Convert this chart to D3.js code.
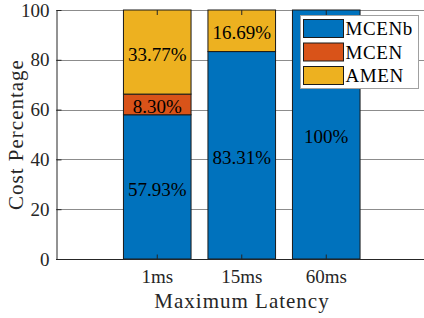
<!DOCTYPE html>
<html>
<head>
<meta charset="utf-8">
<script src="https://cdn.jsdelivr.net/npm/d3@7"></script>
<style>
  body { margin: 0; background: #fff; }
  svg { display: block; font-family: "Liberation Serif", "DejaVu Serif", serif; }
</style>
</head>
<body>
<svg id="chart" width="424" height="318"></svg>
<script>
// categories and stacked series (percent of cost)
var latencies = ['1ms', '15ms', '60ms'];
var seriesNames = ['MCENb', 'MCEN', 'AMEN'];
var mcenb = [57.93, 83.31, 100];
var mcen = [8.30, 0, 0];
var amen = [33.77, 16.69, 0];
var yTicks = [0, 20, 40, 60, 80, 100];

var colors = ['#0072BD', '#D95319', '#EDB120'];

var svg = d3.select('#chart');
var width = +svg.attr('width');
var height = +svg.attr('height');

// plot area
var plotLeft = 56, plotTop = 10, plotBottom = 259;

var x = d3.scaleBand()
  .domain(latencies)
  .range([115, 368.5])
  .paddingInner(0.2)
  .paddingOuter(0.1);

var y = d3.scaleLinear()
  .domain([0, 100])
  .range([plotBottom, plotTop]);

// build stacked rows
var rows = latencies.map(function (d, i) {
  return { lat: d, MCENb: mcenb[i], MCEN: mcen[i], AMEN: amen[i] };
});
var stacked = d3.stack().keys(seriesNames)(rows);

// grid lines
svg.append('g')
  .selectAll('line')
  .data(yTicks)
  .enter().append('line')
  .attr('x1', plotLeft).attr('x2', width)
  .attr('y1', function (d) { return Math.round(y(d)) + 0.5; })
  .attr('y2', function (d) { return Math.round(y(d)) + 0.5; })
  .attr('stroke', '#8c8c8c')
  .attr('stroke-width', 1);

// bars
var layer = svg.append('g')
  .selectAll('g')
  .data(stacked)
  .enter().append('g')
  .attr('fill', function (d, i) { return colors[i]; });

layer.selectAll('rect')
  .data(function (d) { return d.filter(function (p) { return p[1] - p[0] > 0; }); })
  .enter().append('rect')
  .attr('x', function (d) { return x(d.data.lat); })
  .attr('width', x.bandwidth())
  .attr('y', function (d) { return y(d[1]); })
  .attr('height', function (d) { return y(d[0]) - y(d[1]); })
  .attr('stroke', '#1a1a1a')
  .attr('stroke-width', 1);

// percentage labels
stacked.forEach(function (s) {
  s.forEach(function (p) {
    var v = p[1] - p[0];
    if (v <= 0) return;
    svg.append('text')
      .attr('x', x(p.data.lat) + x.bandwidth() / 2)
      .attr('y', y((p[0] + p[1]) / 2) + 2)
      .attr('dy', '0.35em')
      .attr('text-anchor', 'middle')
      .attr('font-size', 19)
      .attr('fill', '#000')
      .text((v === 100 ? '100' : v.toFixed(2)) + '%');
  });
});

// axes
var yAxis = d3.axisLeft(y).tickValues(yTicks).tickSizeInner(-5).tickSizeOuter(0).tickPadding(7);
var gy = svg.append('g')
  .attr('transform', 'translate(' + (plotLeft + 0.5) + ',0)')
  .call(yAxis);
gy.select('.domain').attr('stroke', '#262626');
gy.selectAll('.tick line').attr('stroke', '#262626');
gy.selectAll('.tick text').attr('font-size', 19).attr('fill', '#262626')
  .attr('font-family', '"Liberation Serif", serif');

var xAxis = d3.axisBottom(x).tickSizeInner(-5).tickSizeOuter(0).tickPadding(10);
var gx = svg.append('g')
  .attr('transform', 'translate(0,' + (plotBottom + 0.5) + ')')
  .call(xAxis);
gx.select('.domain').attr('d', 'M' + plotLeft + ',0H' + width).attr('stroke', '#262626');
gx.selectAll('.tick line').attr('stroke', '#262626');
gx.selectAll('.tick text').attr('font-size', 19).attr('fill', '#262626')
  .attr('font-family', '"Liberation Serif", serif');

// top ticks
svg.append('g')
  .selectAll('line')
  .data(latencies)
  .enter().append('line')
  .attr('x1', function (d) { return x(d) + x.bandwidth() / 2; })
  .attr('x2', function (d) { return x(d) + x.bandwidth() / 2; })
  .attr('y1', plotTop).attr('y2', plotTop + 5)
  .attr('stroke', '#262626');

// axis titles
svg.append('text')
  .attr('x', 242).attr('y', 308)
  .attr('text-anchor', 'middle')
  .attr('font-size', 21)
  .attr('letter-spacing', 1)
  .attr('fill', '#262626')
  .text('Maximum Latency');

svg.append('text')
  .attr('transform', 'translate(23,' + ((plotTop + plotBottom) / 2) + ') rotate(-90)')
  .attr('text-anchor', 'middle')
  .attr('font-size', 21)
  .attr('letter-spacing', 1)
  .attr('fill', '#262626')
  .text('Cost Percentage');

// legend
var legend = svg.append('g').attr('transform', 'translate(300.5,15.5)');
legend.append('rect')
  .attr('width', 118).attr('height', 73)
  .attr('fill', '#fff')
  .attr('stroke', '#a0a0a0');

var item = legend.selectAll('g.item')
  .data(seriesNames)
  .enter().append('g')
  .attr('class', 'item')
  .attr('transform', function (d, i) { return 'translate(3,' + (4 + i * 23.5) + ')'; });

item.append('rect')
  .attr('width', 40).attr('height', 18)
  .attr('fill', function (d, i) { return colors[i]; })
  .attr('stroke', '#1a1a1a');

item.append('text')
  .attr('x', 42).attr('y', 9)
  .attr('dy', '0.35em')
  .attr('font-size', 19)
  .attr('letter-spacing', 0.6)
  .attr('fill', '#000')
  .text(function (d) { return d; });
</script>
</body>
</html>
